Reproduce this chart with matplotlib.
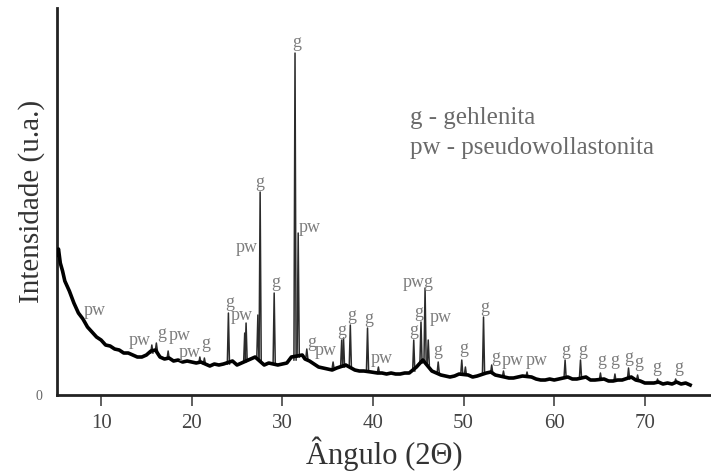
import numpy as np
import matplotlib
matplotlib.use("Agg")
import matplotlib.pyplot as plt

plt.rcParams["font.family"] = ["Liberation Serif", "DejaVu Serif"]

# Background of the diffractogram (2-theta, intensity)
bg_angle = [5.1, 5.3, 5.5, 5.75, 6.0, 6.5, 7.0, 7.5, 8.0, 8.5, 9.0, 9.5, 10.0, 10.5,
            11.0, 11.5, 12.0, 12.5, 13.0, 13.5, 14.0, 14.5, 15.0, 15.5, 16.0, 16.5,
            17.0, 17.5, 18.0, 18.5, 19.0, 19.5, 20.0, 20.5, 21.0, 21.5, 22.0, 22.5,
            23.0, 23.5, 24.5, 25.0, 25.5, 26.5, 27.0, 28.0, 28.5, 29.5, 30.0, 30.5,
            31.0, 32.2, 32.5, 33.0, 33.5, 34.0, 34.5, 35.0, 35.5, 36.0, 37.0, 38.0,
            38.5, 39.0, 39.8, 40.5, 41.0, 41.5, 42.0, 42.5, 43.0, 43.5, 44.0, 44.8,
            45.5, 46.5, 47.0, 47.5, 48.0, 48.5, 49.0, 49.5, 50.5, 51.0, 51.5, 52.5,
            53.0, 53.5, 54.0, 54.5, 55.0, 55.5, 56.0, 56.5, 57.5, 58.0, 58.5, 59.0,
            59.5, 60.0, 60.5, 61.5, 62.0, 62.5, 63.5, 64.0, 64.5, 65.5, 66.0, 66.5,
            67.0, 67.5, 68.5, 69.0, 69.5, 70.0, 70.5, 71.0, 71.5, 72.0, 72.5, 73.0,
            73.5, 74.0, 74.5, 75.0]
bg_int = [140, 146, 132, 124, 114, 104, 92, 82, 76, 68, 63, 58, 55, 50,
          49, 46, 45, 42, 42, 40, 38, 38, 40, 44, 45, 38,
          36, 37, 34, 35, 33, 34, 33, 32, 33, 31, 29, 31,
          30, 31, 34, 30, 32, 36, 38, 30, 32, 30, 31, 32,
          38, 40, 36, 34, 31, 28, 27, 26, 25, 27, 30, 25,
          24, 24, 23, 22, 22, 21, 22, 21, 21, 22, 22, 28,
          35, 24, 22, 20, 19, 18, 19, 21, 20, 18, 19, 22,
          23, 20, 19, 18, 17, 17, 18, 19, 18, 16, 15, 15,
          16, 15, 16, 18, 16, 16, 18, 15, 15, 16, 14, 14,
          15, 15, 18, 15, 14, 12, 12, 12, 13, 11, 12, 11,
          13, 11, 12, 10]

# Diffraction peaks: position, apex intensity, intensity at the foot
peak_angle = [15.6, 16.1, 17.4, 20.9, 21.4, 24.05, 25.85, 26.0, 27.3, 27.55,
              29.1, 31.4, 31.75, 32.7, 35.6, 36.55, 36.75, 37.5, 39.4, 40.6,
              44.5, 45.3, 45.75, 46.1, 47.2, 49.8, 50.2, 52.2, 53.1, 54.4,
              57.0, 61.2, 62.9, 65.1, 66.7, 68.2, 69.2, 71.4, 73.4]
peak_top = [50, 52, 44, 38, 37, 82, 62, 72, 80, 203,
            102, 342, 162, 46, 33, 55, 57, 70, 67, 28,
            55, 73, 107, 55, 33, 35, 28, 78, 30, 24,
            23, 35, 35, 22, 21, 27, 20, 16, 16]
peak_base = [42, 44, 36, 32, 31, 31, 33, 34, 36, 34,
             31, 35, 38, 36, 26, 28, 28, 28, 24, 22,
             24, 32, 34, 30, 22, 20, 20, 21, 22, 18,
             18, 17, 17, 15, 14, 16, 15, 12, 12]

# Phase labels: text, 2-theta, intensity of the label centre
label_text = ["pw", "pw", "g", "pw", "pw", "g", "g", "pw", "pw", "g",
              "g", "g", "pw", "g", "pw", "g", "g", "g", "pw", "g",
              "g", "pwg", "pw", "g", "g", "g", "g", "pw", "pw", "g",
              "g", "g", "g", "g", "g", "g", "g"]
label_angle = [9.3, 14.3, 16.7, 18.7, 19.8, 21.55, 24.2, 25.5, 26.1, 27.55,
               29.3, 31.6, 33.07, 33.2, 34.8, 36.6, 37.7, 39.5, 41.0, 44.5,
               45.1, 45.0, 47.5, 47.2, 50.0, 52.3, 53.5, 55.4, 58.1, 61.3,
               63.1, 65.3, 66.7, 68.2, 69.3, 71.3, 73.7]
label_int = [85, 55, 62, 60, 43, 52, 93, 80, 148, 213,
             113, 353, 168, 53, 45, 65, 80, 77, 37, 65,
             83, 113, 78, 45, 47, 88, 38, 35, 35, 45,
             45, 35, 35, 38, 33, 28, 28]

legend_lines = ["g - gehlenita", "pw - pseudowollastonita"]

PEAK_HW = 0.12

fig = plt.figure(figsize=(7.11, 4.75), dpi=100)
ax = fig.add_axes([0.0797, 0.1684, 0.9203, 0.8147])

# Noisy background band
ax.plot(bg_angle, bg_int, color="black", lw=2.6, solid_joinstyle="round", zorder=3)

# Sharp reflections on top of the background
for a, top, base in zip(peak_angle, peak_top, peak_base):
    ax.plot([a - PEAK_HW, a, a + PEAK_HW], [base, top, base],
            color="#2b2b2b", lw=1.1, zorder=2)

for t, a, y in zip(label_text, label_angle, label_int):
    ax.text(a, y, t, ha="center", va="center", fontsize=13, color="#7d7d7d", zorder=4)

fig.text(0.577, 0.751, legend_lines[0], fontsize=18, color="#6a6a6a",
         ha="left", va="center")
fig.text(0.577, 0.688, legend_lines[1], fontsize=18, color="#6a6a6a",
         ha="left", va="center")

ax.set_xlim(5.1, 77.3)
ax.set_ylim(0, 387)

for side in ("top", "right"):
    ax.spines[side].set_visible(False)
for side in ("left", "bottom"):
    ax.spines[side].set_linewidth(2.0)
    ax.spines[side].set_color("#222222")

ax.set_xticks([10, 20, 30, 40, 50, 60, 70])
ax.tick_params(axis="x", direction="out", length=8, width=1.2, color="#444444",
               labelsize=15, labelcolor="#444444", pad=6)
ax.set_yticks([0])
ax.set_yticklabels(["0"])
ax.tick_params(axis="y", length=0, labelsize=10, labelcolor="#666666", pad=10)

ax.set_xlabel("Ângulo (2Θ)", fontsize=22, color="#333333", labelpad=2)
ax.set_ylabel("Intensidade (u.a.)", fontsize=21, color="#333333")
ax.yaxis.set_label_coords(-0.018, 0.5)

fig.savefig("out.png", dpi=100)
